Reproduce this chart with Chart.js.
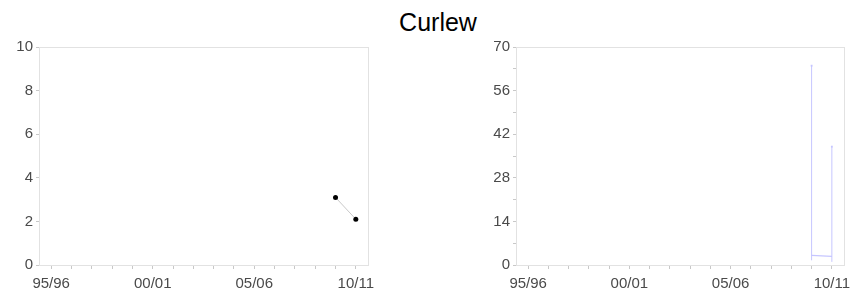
<!DOCTYPE html>
<html>
<head>
<meta charset="utf-8">
<script src="https://cdn.jsdelivr.net/npm/chart.js@4/dist/chart.umd.min.js"></script>
<style>
  body { margin: 0; background: #fff; }
  #wrap { position: relative; width: 863px; height: 297px; overflow: hidden; }
  #title { position: absolute; left: 0; width: 876px; top: 8px; text-align: center;
    font-family: "Liberation Sans", Arial, sans-serif; font-size: 25px; color: #000; }
  canvas { position: absolute; top: 0; }
</style>
</head>
<body>
<div id="wrap">
  <div id="title">Curlew</div>
  <canvas id="left" width="431" height="297" style="left:0"></canvas>
  <canvas id="right" width="432" height="297" style="left:431px"></canvas>
</div>
<script>
// seasons on the x axis
const seasons = ["95/96","96/97","97/98","98/99","99/00","00/01","01/02","02/03",
  "03/04","04/05","05/06","06/07","07/08","08/09","09/10","10/11"];
const labelledSeasons = ["95/96","00/01","05/06","10/11"];

// left panel: counts
const countSeasons = ["09/10","10/11"];
const countValues = [3.1, 2.1];
const leftTicks = [0, 2, 4, 6, 8, 10];

// right panel: trend with interval
const trendSeasons = ["09/10","10/11"];
const trendValues = [3.1, 2.8];
const lowerValues = [1.5, 1.0];
const upperValues = [64, 38];
const rightTicks = [0, 14, 28, 42, 56, 70];

const FONT = "'Liberation Sans', Arial, sans-serif";
const lavender = "rgba(195,195,255,0.95)";

const boxPlugin = {
  id: "box",
  afterDraw(chart) {
    const a = chart.chartArea, c = chart.ctx;
    c.save();
    c.strokeStyle = "#e2e2e2";
    c.lineWidth = 1;
    c.strokeRect(Math.round(a.left) + 0.5, Math.round(a.top) + 0.5,
      Math.round(a.right - a.left), Math.round(a.bottom - a.top));
    c.restore();
  }
};

function xScale() {
  return {
    type: "linear",
    min: -0.6,
    max: 15.6,
    afterFit: (s) => { s.height = 32; },
    ticks: {
      stepSize: 1,
      includeBounds: false,
      autoSkip: false,
      maxRotation: 0,
      padding: 6,
      color: "#4a4a4a",
      font: { family: FONT, size: 15 },
      callback: (v) => {
        const lab = seasons[v];
        return labelledSeasons.includes(lab) ? lab : "";
      }
    },
    grid: { drawOnChartArea: false, tickLength: 4, color: "#c8c8c8" },
    border: { color: "#dedede" }
  };
}

function yScale(max, step, labels, width, dash) {
  return {
    min: 0,
    max: max,
    afterFit: (s) => { s.width = width; },
    ticks: {
      stepSize: step,
      autoSkip: false,
      padding: 3,
      color: "#4a4a4a",
      font: { family: FONT, size: 15 },
      callback: (v) => labels.includes(v) ? String(v) : ""
    },
    grid: { drawOnChartArea: false, tickLength: 3, color: "#c8c8c8" },
    border: { color: "#cfcfcf", dash: dash }
  };
}

const commonOpts = {
  responsive: false,
  animation: false,
  plugins: { legend: { display: false }, tooltip: { enabled: false } }
};

new Chart(document.getElementById("left"), {
  type: "line",
  data: {
    datasets: [{
      data: countSeasons.map((s, i) => ({ x: seasons.indexOf(s), y: countValues[i] })),
      borderColor: "#c8c8c8",
      borderWidth: 1,
      pointBackgroundColor: "#000",
      pointBorderColor: "#000",
      pointRadius: 2.5,
      pointBorderWidth: 0
    }]
  },
  options: Object.assign({}, commonOpts, {
    layout: { padding: { top: 47, right: 63, left: 0, bottom: 0 } },
    scales: { x: xScale(), y: yScale(10, 2, leftTicks, 39, [1, 2]) }
  }),
  plugins: [boxPlugin]
});

// interval bars as vertical line segments
const intervalSets = trendSeasons.map((s, i) => ({
  data: [
    { x: seasons.indexOf(s), y: lowerValues[i] },
    { x: seasons.indexOf(s), y: upperValues[i] }
  ],
  borderColor: lavender,
  borderWidth: 1,
  pointStyle: "rect",
  pointRadius: [0, 1.3],
  pointBackgroundColor: lavender,
  pointBorderWidth: 0
}));

new Chart(document.getElementById("right"), {
  type: "line",
  data: {
    datasets: [{
      data: trendSeasons.map((s, i) => ({ x: seasons.indexOf(s), y: trendValues[i] })),
      borderColor: lavender,
      borderWidth: 1.2,
      pointRadius: 0
    }].concat(intervalSets)
  },
  options: Object.assign({}, commonOpts, {
    layout: { padding: { top: 47, right: 19, left: 0, bottom: 0 } },
    scales: { x: xScale(), y: yScale(70, 7, rightTicks, 85, []) }
  }),
  plugins: [boxPlugin]
});
</script>
</body>
</html>
